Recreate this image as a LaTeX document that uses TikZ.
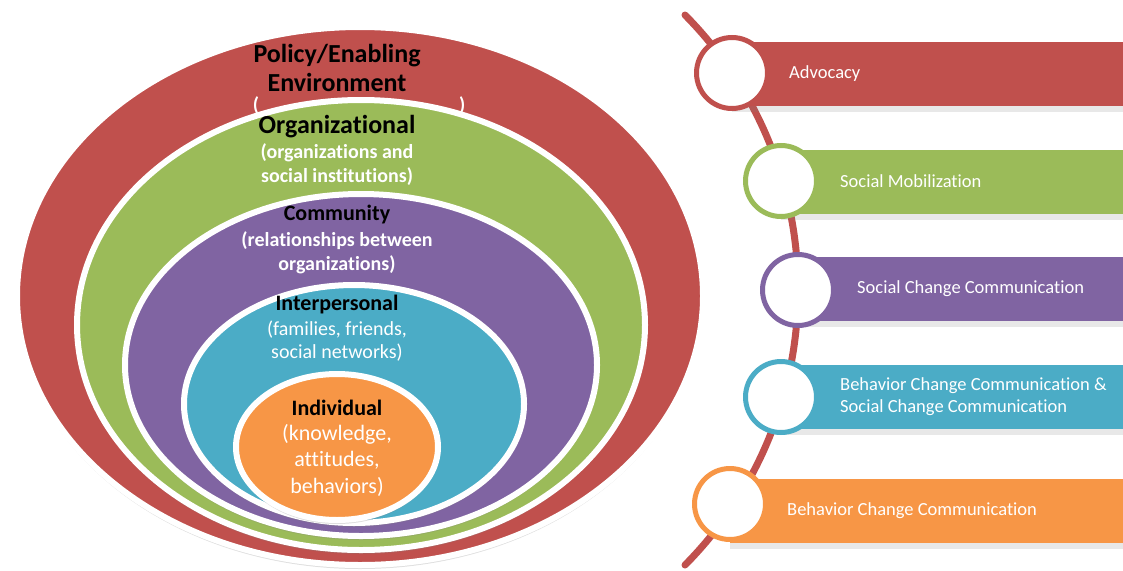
\documentclass[tikz,border=0pt]{standalone}
\usepackage{fontspec}
\setmainfont{Carlito}[Ligatures=CommonOff]
\usetikzlibrary{shapes.geometric,shadows}
\definecolor{cred}{HTML}{C0504D}
\definecolor{cgreen}{HTML}{9BBB59}
\definecolor{cpurple}{HTML}{8064A2}
\definecolor{cblue}{HTML}{4BACC6}
\definecolor{corange}{HTML}{F79646}
\begin{document}
\begin{tikzpicture}[x=1pt,y=-1pt,
  layer/.style={ellipse, draw=white, line width=6pt, inner sep=0pt,
    drop shadow={shadow xshift=0pt, shadow yshift=-4pt, opacity=0.25}},
  band/.style={rectangle, anchor=west, inner sep=0pt, minimum height=64pt, minimum width=400pt,
    drop shadow={shadow xshift=0pt, shadow yshift=-6pt, opacity=0.18}},
  dot/.style={circle, fill=white, line width=5pt, inner sep=0pt, minimum size=71pt},
  title/.style={text=black, font=\bfseries\fontsize{26}{29}\selectfont, align=center, inner sep=0pt},
  head/.style={text=black, font=\bfseries\fontsize{22}{25}\selectfont, align=center, inner sep=0pt},
  subb/.style={text=white, font=\bfseries\fontsize{20}{24}\selectfont, align=center, inner sep=0pt},
  subr/.style={text=white, font=\fontsize{20}{22.5}\selectfont, align=center, inner sep=0pt},
  bandtxt/.style={text=white, font=\fontsize{18.5}{22}\selectfont, anchor=west, align=left, inner sep=0pt}]
\useasboundingbox (0,0) rectangle (1123,570);

% nested ellipses
\node[layer, fill=cred, minimum width=686pt, minimum height=538pt] (policy) at (360,296) {};
\node[title] (policyt) at (337,67.5) {Policy/Enabling\\Environment};
\node[subb] (policys) at (359,106) {(\hspace*{200pt})};
\node[layer, fill=cgreen, minimum width=568pt, minimum height=450pt] (org) at (361,325) {};
\node[layer, fill=cpurple, minimum width=472pt, minimum height=342pt] (comm) at (361,365) {};
\node[layer, fill=cblue, minimum width=340pt, minimum height=238pt] (inter) at (354,404) {};
\node[layer, fill=corange, minimum width=202pt, minimum height=146pt] (indiv) at (337,447) {};

\node[title] (orgt) at (337,127) {Organizational};
\node[subb] (orgs) at (337,165) {(organizations and\\social institutions)};
\node[head] (commt) at (337,215) {Community};
\node[subb] (comms) at (337,253) {(relationships between\\organizations)};
\node[head] (intert) at (337,305) {Interpersonal};
\node[subr] (inters) at (337,341) {(families, friends,\\social networks)};
\node[head] (indivt) at (337,408) {Individual};
\node[text=white, font=\fontsize{22}{26.5}\selectfont, align=center, inner sep=0pt] (indivs) at (337,460) {(knowledge,\\attitudes,\\behaviors)};

% timeline arc
\coordinate (arctop) at (685,15);
\draw[cred, line width=7pt, line cap=round] (arctop) arc[start angle=-44.7, end angle=44.7, radius=391];

% bands
\node[band, fill=cred] (b1) at (732,74) {};
\node[band, fill=cgreen] (b2) at (781,181.5) {};
\node[band, fill=cpurple] (b3) at (798,289) {};
\node[band, fill=cblue] (b4) at (781,397) {};
\node[band, fill=corange] (b5) at (730,511) {};

% circles
\node[dot, draw=cred] (c1) at (732,73) {};
\node[dot, draw=cgreen] (c2) at (781,181) {};
\node[dot, draw=cpurple] (c3) at (798,290) {};
\node[dot, draw=cblue] (c4) at (781,397) {};
\node[dot, draw=corange] (c5) at (730,504) {};

% band texts
\node[bandtxt] (t1) at (789,74) {Advocacy};
\node[bandtxt] (t2) at (840,181.5) {Social Mobilization};
\node[bandtxt] (t3) at (857,289) {Social Change Communication};
\node[bandtxt] (t4) at (840,397) {Behavior Change Communication \&\\Social Change Communication};
\node[bandtxt] (t5) at (787,511) {Behavior Change Communication};
\end{tikzpicture}
\end{document}
